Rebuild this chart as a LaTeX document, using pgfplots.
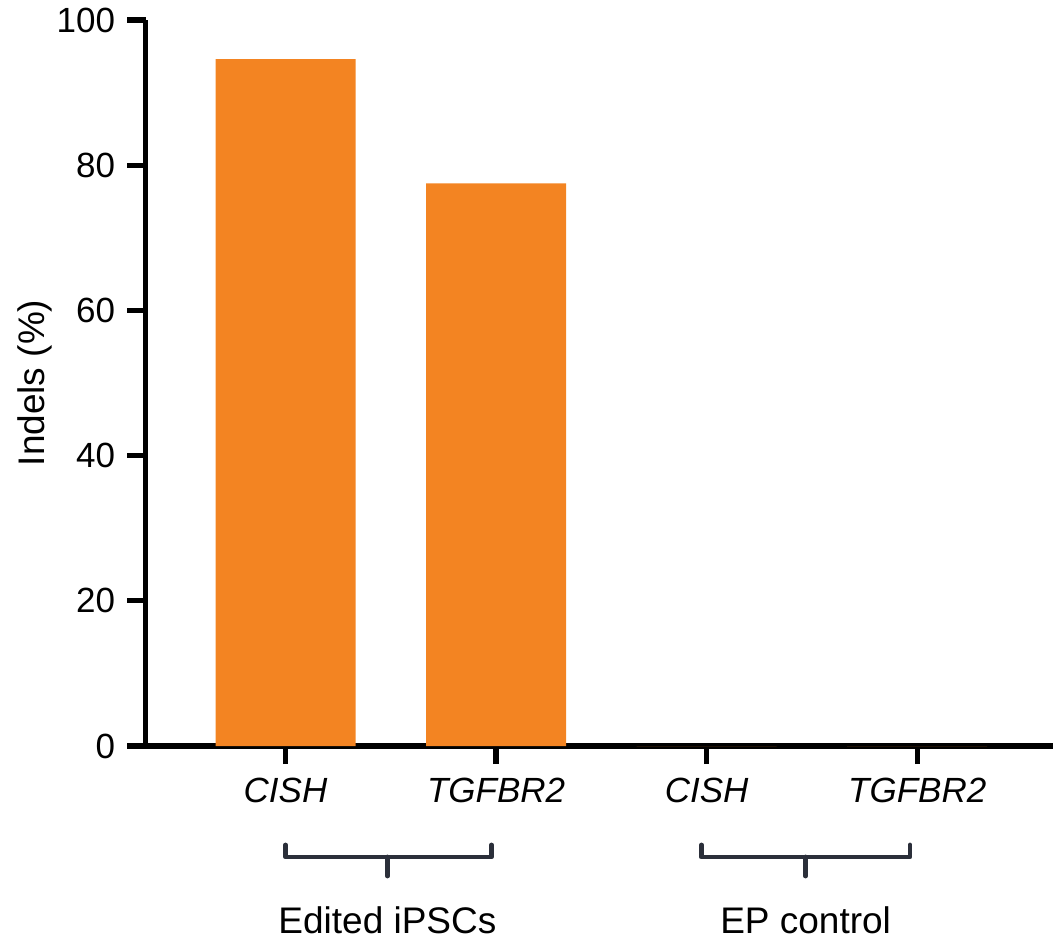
\documentclass[border=0pt]{standalone}
\usepackage{pgfplots}
\pgfplotsset{compat=1.18}
\usepackage{fontspec}
\setmainfont{Liberation Sans}
\definecolor{barorange}{RGB}{243,132,34}
\definecolor{brk}{RGB}{43,47,58}
\begin{document}
\fontsize{15bp}{18bp}\selectfont
\begin{tikzpicture}
\useasboundingbox (0,0) rectangle (526.5bp,470bp);
\begin{axis}[
  at={(72.75bp,97bp)}, anchor=south west,
  scale only axis,
  width=453.75bp, height=363bp,
  xmin=-0.665, xmax=3.645,
  ymin=0, ymax=100,
  axis x line=bottom, axis y line=left,
  axis line style={line width=2.6bp, -},
  every tick/.style={black, line width=2.6bp},
  xtick={0,1,2,3},
  xticklabels={CISH,TGFBR2,CISH,TGFBR2},
  xticklabel style={font=\fontsize{17.5bp}{21bp}\selectfont\itshape, yshift=-2bp},
  ytick={0,20,40,60,80,100},
  yticklabel style={font=\fontsize{17.5bp}{20bp}\selectfont, xshift=-1bp},
  /pgf/number format/assume math mode=true,
  major tick length=9bp,
  tick align=outside,
  xtick pos=bottom, ytick pos=left,
  ylabel={Indels (\%)},
  every axis y label/.style={at={(axis description cs:0,0.5)}, xshift=-55.5bp, rotate=90, anchor=center, font=\fontsize{18.5bp}{22bp}\selectfont},
  ybar, bar width=70bp, bar shift=0pt,
  clip=false,
  enlargelimits=false,
]
\addplot[fill=barorange, draw=none] coordinates {(0,94.6) (1,77.5) (2,0) (3,0)};
\draw[brk, line width=2.4bp, line cap=round, line join=round]
  ([yshift=-49.5bp]axis cs:0,0) -- ([yshift=-55.5bp]axis cs:0,0) -- ([yshift=-55.5bp]axis cs:0.978,0) -- ([yshift=-49.5bp]axis cs:0.978,0);
\draw[brk, line width=2.4bp, line cap=round]
  ([yshift=-55.5bp]axis cs:0.484,0) -- ([yshift=-65bp]axis cs:0.484,0);
\draw[brk, line width=2.4bp, line cap=round, line join=round]
  ([yshift=-49.5bp]axis cs:1.975,0) -- ([yshift=-55.5bp]axis cs:1.975,0) -- ([yshift=-55.5bp]axis cs:2.966,0) -- ([yshift=-49.5bp]axis cs:2.966,0);
\draw[brk, line width=2.4bp, line cap=round]
  ([yshift=-55.5bp]axis cs:2.47,0) -- ([yshift=-65bp]axis cs:2.47,0);
\node[anchor=base, inner sep=0pt, font=\fontsize{18.5bp}{22bp}\selectfont] at ([yshift=-93.5bp]axis cs:0.484,0) {Edited iPSCs};
\node[anchor=base, inner sep=0pt, font=\fontsize{18.5bp}{22bp}\selectfont] at ([yshift=-93.5bp]axis cs:2.47,0) {EP control};
\end{axis}
\end{tikzpicture}
\end{document}
